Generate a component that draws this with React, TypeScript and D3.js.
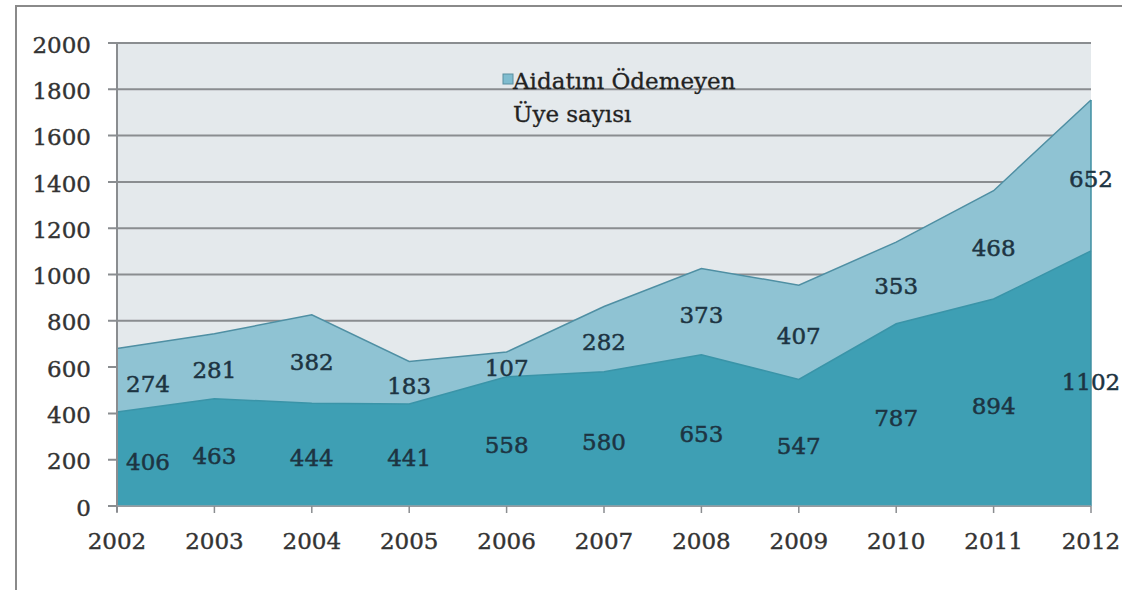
import React from "react";
import * as d3 from "d3";

const years = [2002, 2003, 2004, 2005, 2006, 2007, 2008, 2009, 2010, 2011, 2012];
const paid = [406, 463, 444, 441, 558, 580, 653, 547, 787, 894, 1102];
const unpaid = [274, 281, 382, 183, 107, 282, 373, 407, 353, 468, 652];
const yTicks = [0, 200, 400, 600, 800, 1000, 1200, 1400, 1600, 1800, 2000];
const legendLines = ["Aidatını Ödemeyen", "Üye sayısı"];

const W = 1122;
const H = 590;
const left = 117;
const right = 1091;
const top = 43;
const bottom = 506;

export default function App() {
  const x = d3.scaleLinear().domain([2002, 2012]).range([left, right]);
  const y = d3.scaleLinear().domain([0, 2000]).range([bottom, top]);
  const rows = years.map((yr, i) => ({ yr, a: paid[i], b: paid[i] + unpaid[i] }));

  const lowerArea = d3
    .area<any>()
    .x((d) => x(d.yr))
    .y0(() => y(0))
    .y1((d) => y(d.a));
  const upperArea = d3
    .area<any>()
    .x((d) => x(d.yr))
    .y0((d) => y(d.a))
    .y1((d) => y(d.b));
  const topLine = d3
    .line<any>()
    .x((d) => x(d.yr))
    .y((d) => y(d.b));
  const midLine = d3
    .line<any>()
    .x((d) => x(d.yr))
    .y((d) => y(d.a));

  const font = "'DejaVu Serif', serif";
  const labelX = (i: number) => (i === 0 ? x(years[i]) + 31 : x(years[i]));
  const fs = 23;

  return (
    <svg width={W} height={H} style={{ position: "absolute", left: 0, top: 0 }}>
      <rect x={0} y={0} width={W} height={H} fill="#ffffff" />
      {/* outer frame */}
      <line x1={15} y1={6} x2={W} y2={6} stroke="#8a8a8a" strokeWidth={2} />
      <line x1={16} y1={5} x2={16} y2={H} stroke="#8a8a8a" strokeWidth={2} />

      {/* plot background */}
      <rect x={left} y={top} width={right - left} height={bottom - top} fill="#e4e9ec" />

      {/* grid lines */}
      {yTicks.map((t) => (
        <line key={t} x1={108} x2={right} y1={y(t)} y2={y(t)} stroke="#8a8d90" strokeWidth={2} />
      ))}

      {/* areas */}
      <path d={upperArea(rows) || ""} fill="#8fc3d3" />
      <path d={lowerArea(rows) || ""} fill="#3e9fb4" />
      <path d={topLine(rows) || ""} fill="none" stroke="#4f8fa3" strokeWidth={1.5} />
      <path d={midLine(rows) || ""} fill="none" stroke="#3a94a8" strokeWidth={1.5} />
      <line x1={right} x2={right} y1={y(rows[rows.length - 1].b)} y2={bottom} stroke="#3f8fa2" strokeWidth={1.5} />

      {/* axes */}
      <line x1={left} x2={left} y1={top} y2={bottom + 6} stroke="#8a8d90" strokeWidth={2} />
      <line x1={left} x2={right} y1={bottom} y2={bottom} stroke="#9aa0a6" strokeWidth={1.5} />
      {years.map((yr) => (
        <line key={yr} x1={x(yr)} x2={x(yr)} y1={bottom} y2={bottom + 7} stroke="#8a8d90" strokeWidth={1.5} />
      ))}

      {/* y tick labels */}
      {yTicks.map((t) => (
        <text
          key={t}
          x={91}
          y={y(t)}
          dy="0.42em"
          textAnchor="end"
          fontFamily={font}
          fontSize={fs}
          fill="#333"
          stroke="#333"
          strokeWidth={0.4}
        >
          {t}
        </text>
      ))}

      {/* x tick labels */}
      {years.map((yr) => (
        <text
          key={yr}
          x={x(yr)}
          y={549}
          textAnchor="middle"
          fontFamily={font}
          fontSize={fs}
          fill="#333"
          stroke="#333"
          strokeWidth={0.4}
        >
          {yr}
        </text>
      ))}

      {/* data labels */}
      {rows.map((r, i) => (
        <text
          key={"a" + i}
          x={labelX(i)}
          y={y(r.a / 2) + 3}
          dy="0.36em"
          textAnchor="middle"
          fontFamily={font}
          fontSize={fs}
          fill="#1d3442"
          stroke="#1d3442"
          strokeWidth={0.5}
        >
          {paid[i]}
        </text>
      ))}
      {rows.map((r, i) => (
        <text
          key={"b" + i}
          x={labelX(i)}
          y={y(r.a + unpaid[i] / 2) + 3}
          dy="0.36em"
          textAnchor="middle"
          fontFamily={font}
          fontSize={fs}
          fill="#1d3442"
          stroke="#1d3442"
          strokeWidth={0.5}
        >
          {unpaid[i]}
        </text>
      ))}

      {/* legend */}
      <rect x={503} y={74} width={10} height={10} fill="#7fbccf" stroke="#5a8fa0" strokeWidth={1} />
      {legendLines.map((l, i) => (
        <text
          key={l}
          x={513}
          y={89 + i * 33}
          fontFamily={font}
          fontSize={fs}
          fill="#222"
          stroke="#222"
          strokeWidth={0.3}
        >
          {l}
        </text>
      ))}
    </svg>
  );
}
